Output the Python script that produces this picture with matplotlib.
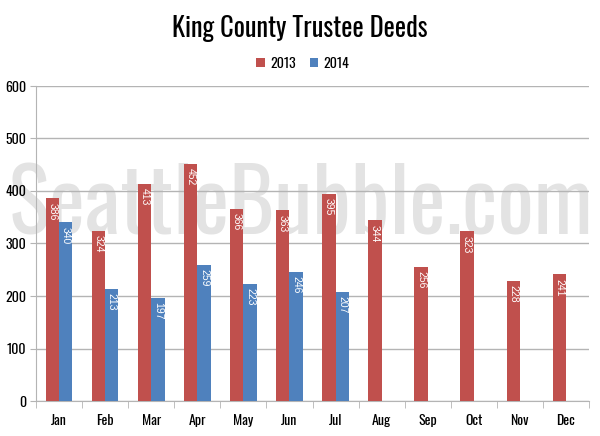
import matplotlib
matplotlib.use("Agg")
import matplotlib.pyplot as plt
import numpy as np

months = ["Jan", "Feb", "Mar", "Apr", "May", "Jun", "Jul", "Aug", "Sep", "Oct", "Nov", "Dec"]
vals_2013 = [386, 324, 413, 452, 366, 363, 395, 344, 256, 323, 228, 241]
vals_2014 = [340, 213, 197, 259, 223, 246, 207]
y_ticks = [0, 100, 200, 300, 400, 500, 600]

plt.rcParams["font.family"] = ["Oswald", "DejaVu Sans"]

RED = "#C0504D"
BLUE = "#4F81BD"
GRID = "#B4B4B4"

fig = plt.figure(figsize=(6, 4.36), dpi=100)
ax = fig.add_axes([36/600, 1-401/436, 553/600, 315/436])

x = np.arange(len(months))
w = 0.29
b1 = ax.bar(x[:len(vals_2013)] - w/2, vals_2013, w, color=RED, zorder=3, label="2013")
b2 = ax.bar(x[:len(vals_2014)] + w/2, vals_2014, w, color=BLUE, zorder=3, label="2014")

for bars, vals in ((b1, vals_2013), (b2, vals_2014)):
    for r, v in zip(bars, vals):
        ax.annotate(str(v), (r.get_x() + r.get_width()/2, v), xytext=(0, -3),
                    textcoords="offset points", rotation=-90, ha="center", va="top",
                    color="white", fontsize=7.5, family="Liberation Sans", zorder=4)

ax.set_xlim(-0.5, len(months) - 0.5)
ax.set_ylim(0, 600)
ax.set_yticks(y_ticks)
ax.set_yticklabels([str(t) for t in y_ticks], fontsize=10, fontweight="bold")
ax.yaxis.grid(True, color=GRID, linewidth=1, zorder=1)
ax.tick_params(axis="y", length=4, color=GRID, pad=3)
ax.set_xticks(x)
ax.set_xticklabels(months, fontsize=10, fontweight="bold")
ax.set_xticks(np.arange(-0.5, len(months)), minor=True)
ax.tick_params(axis="x", which="major", length=0, pad=9)
ax.tick_params(axis="x", which="minor", length=5, color=GRID)
for s in ("top", "right"):
    ax.spines[s].set_visible(False)
ax.spines["left"].set_color(GRID)
ax.spines["bottom"].set_color(GRID)
ax.set_axisbelow(True)
ax.patch.set_alpha(0)

# watermark (behind grid and bars), fitted to the span it covers in the reference
wm = ax.text((8 + 593) / 2 / 600, 1-207/436, "SeattleBubble.com", ha="center", va="center",
             fontsize=60, color="#E3E3E3", zorder=0.5, transform=fig.transFigure,
             clip_on=False)
fig.canvas.draw()
bb = wm.get_window_extent()
wm.set_fontsize(60 * (593 - 8) / bb.width)

fig.text(0.5, 1-29/436, "King County Trustee Deeds", ha="center", va="center",
         fontsize=19)
leg = fig.legend(handles=[b1, b2], labels=["2013", "2014"], loc="center",
                 bbox_to_anchor=(0.505, 1-63/436), ncol=2, frameon=False,
                 handlelength=0.6, handleheight=0.6, handletextpad=0.4,
                 columnspacing=1.0, prop={"size": 10, "weight": "bold"})

fig.savefig("out.png", dpi=100)
